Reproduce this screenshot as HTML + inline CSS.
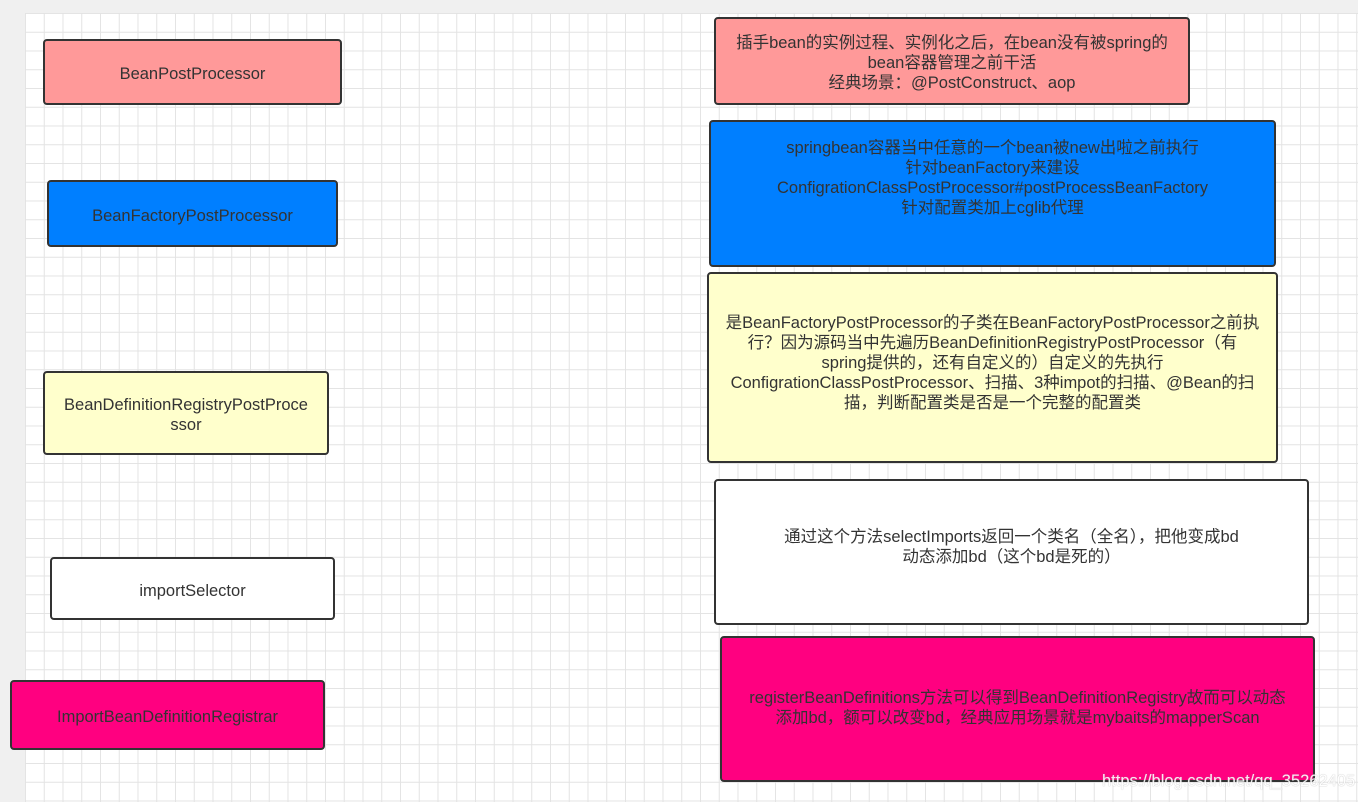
<!DOCTYPE html>
<html><head><meta charset="utf-8"><style>
body{margin:0;width:1358px;height:802px;background:#f0f0f0;position:relative;overflow:hidden;font-family:"Liberation Sans","Noto Sans CJK SC",sans-serif;}
.grid{position:absolute;left:25px;top:13px;right:0;bottom:0;background-color:#fff;
background-image:linear-gradient(#e3e3e3 1px,transparent 1px),linear-gradient(90deg,#e3e3e3 1px,transparent 1px);
background-size:18.75px 18.75px;}
.b{position:absolute;box-sizing:border-box;border:2px solid #333;border-radius:4px;display:flex;align-items:center;justify-content:center;text-align:center;color:#333;font-size:16.5px;line-height:20px;padding:4px 4px 0;white-space:nowrap;}
.wm{position:absolute;left:1102px;top:772px;color:#fff;font-size:16.5px;opacity:.9;text-shadow:0 0 1px #999;}
</style></head><body>
<div class="grid"></div>
<div class="b" style="left:43px;top:39px;width:299px;height:66px;background:#ff9999">BeanPostProcessor</div>
<div class="b" style="left:47px;top:180px;width:291px;height:67px;background:#007fff">BeanFactoryPostProcessor</div>
<div class="b" style="left:43px;top:371px;width:286px;height:84px;background:#ffffcc">BeanDefinitionRegistryPostProce<br>ssor</div>
<div class="b" style="left:50px;top:557px;width:285px;height:63px;background:#fff">importSelector</div>
<div class="b" style="left:10px;top:680px;width:315px;height:70px;background:#ff0080">ImportBeanDefinitionRegistrar</div>
<div class="b" style="left:714px;top:17px;width:476px;height:88px;background:#ff9999">插手bean的实例过程、实例化之后，在bean没有被spring的<br>bean容器管理之前干活<br>经典场景：@PostConstruct、aop</div>
<div class="b" style="left:709px;top:120px;width:567px;height:147px;background:#007fff;align-items:flex-start;padding-top:16px">springbean容器当中任意的一个bean被new出啦之前执行<br>针对beanFactory来建设<br>ConfigrationClassPostProcessor#postProcessBeanFactory<br>针对配置类加上cglib代理</div>
<div class="b" style="left:707px;top:272px;width:571px;height:191px;background:#ffffcc;padding-bottom:14px">是BeanFactoryPostProcessor的子类在BeanFactoryPostProcessor之前执<br>行？因为源码当中先遍历BeanDefinitionRegistryPostProcessor（有<br>spring提供的，还有自定义的）自定义的先执行<br>ConfigrationClassPostProcessor、扫描、3种impot的扫描、@Bean的扫<br>描，判断配置类是否是一个完整的配置类</div>
<div class="b" style="left:714px;top:479px;width:595px;height:146px;background:#fff;padding-bottom:14px">通过这个方法selectImports返回一个类名（全名），把他变成bd<br>动态添加bd（这个bd是死的）</div>
<div class="b" style="left:720px;top:636px;width:595px;height:146px;background:#ff0080;padding-bottom:6px">registerBeanDefinitions方法可以得到BeanDefinitionRegistry故而可以动态<br>添加bd，额可以改变bd，经典应用场景就是mybaits的mapperScan</div>
<div class="wm">https://blog.csdn.net/qq_35262405</div>
</body></html>
